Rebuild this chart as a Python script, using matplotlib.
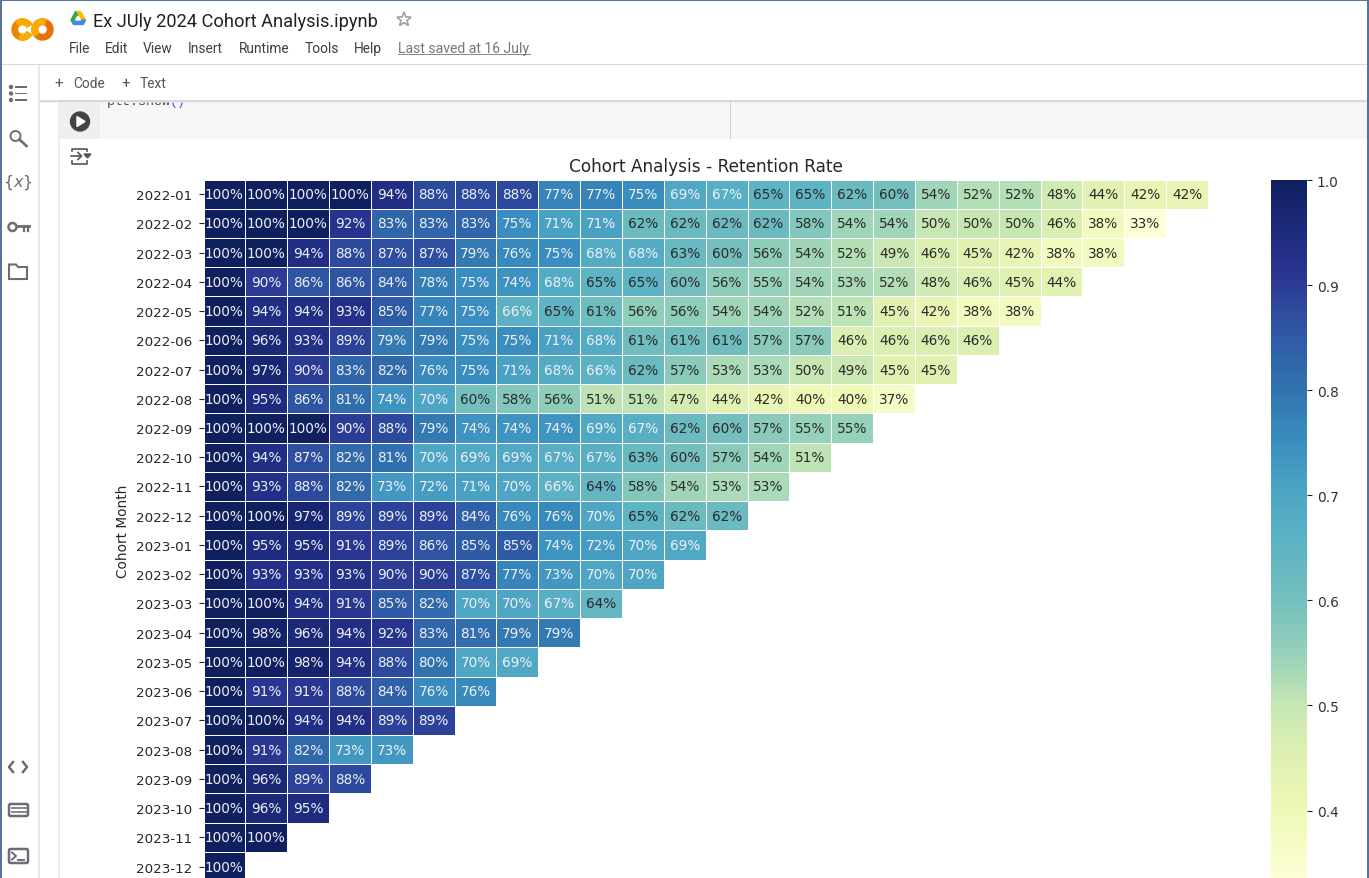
import numpy as np
import matplotlib
matplotlib.use('Agg')
import matplotlib.pyplot as plt
from matplotlib.patches import Rectangle, Circle, Wedge, Polygon, FancyBboxPatch
from matplotlib.colors import Normalize, LinearSegmentedColormap

# cohort labels
months = ['2022-01', '2022-02', '2022-03', '2022-04', '2022-05', '2022-06',
          '2022-07', '2022-08', '2022-09', '2022-10', '2022-11', '2022-12',
          '2023-01', '2023-02', '2023-03', '2023-04', '2023-05', '2023-06',
          '2023-07', '2023-08', '2023-09', '2023-10', '2023-11', '2023-12']

# retention per cohort, percent
r01 = [100, 100, 100, 100, 94, 88, 88, 88, 77, 77, 75, 69, 67, 65, 65, 62, 60, 54, 52, 52, 48, 44, 42, 42]
r02 = [100, 100, 100, 92, 83, 83, 83, 75, 71, 71, 62, 62, 62, 62, 58, 54, 54, 50, 50, 50, 46, 38, 33]
r03 = [100, 100, 94, 88, 87, 87, 79, 76, 75, 68, 68, 63, 60, 56, 54, 52, 49, 46, 45, 42, 38, 38]
r04 = [100, 90, 86, 86, 84, 78, 75, 74, 68, 65, 65, 60, 56, 55, 54, 53, 52, 48, 46, 45, 44]
r05 = [100, 94, 94, 93, 85, 77, 75, 66, 65, 61, 56, 56, 54, 54, 52, 51, 45, 42, 38, 38]
r06 = [100, 96, 93, 89, 79, 79, 75, 75, 71, 68, 61, 61, 61, 57, 57, 46, 46, 46, 46]
r07 = [100, 97, 90, 83, 82, 76, 75, 71, 68, 66, 62, 57, 53, 53, 50, 49, 45, 45]
r08 = [100, 95, 86, 81, 74, 70, 60, 58, 56, 51, 51, 47, 44, 42, 40, 40, 37]
r09 = [100, 100, 100, 90, 88, 79, 74, 74, 74, 69, 67, 62, 60, 57, 55, 55]
r10 = [100, 94, 87, 82, 81, 70, 69, 69, 67, 67, 63, 60, 57, 54, 51]
r11 = [100, 93, 88, 82, 73, 72, 71, 70, 66, 64, 58, 54, 53, 53]
r12 = [100, 100, 97, 89, 89, 89, 84, 76, 76, 70, 65, 62, 62]
r13 = [100, 95, 95, 91, 89, 86, 85, 85, 74, 72, 70, 69]
r14 = [100, 93, 93, 93, 90, 90, 87, 77, 73, 70, 70]
r15 = [100, 100, 94, 91, 85, 82, 70, 70, 67, 64]
r16 = [100, 98, 96, 94, 92, 83, 81, 79, 79]
r17 = [100, 100, 98, 94, 88, 80, 70, 69]
r18 = [100, 91, 91, 88, 84, 76, 76]
r19 = [100, 100, 94, 94, 89, 89]
r20 = [100, 91, 82, 73, 73]
r21 = [100, 96, 89, 88]
r22 = [100, 96, 95]
r23 = [100, 100]
r24 = [100]
rows = [r01, r02, r03, r04, r05, r06, r07, r08, r09, r10, r11, r12,
        r13, r14, r15, r16, r17, r18, r19, r20, r21, r22, r23, r24]
cbar_ticks = [0.4, 0.5, 0.6, 0.7, 0.8, 0.9, 1.0]

# colours as they look on the colour bar of the screenshot
stop_values = [0.333, 0.40, 0.45, 0.50, 0.55, 0.60, 0.65, 0.70, 0.75, 0.80, 0.85, 0.91, 0.95, 1.0]
stop_colors = ['#fdfed6', '#eff8b5', '#dff1b2', '#c6e6b4', '#96d1ba', '#74bfbe', '#5fb4c4',
               '#4ea6c4', '#3a8fbf', '#3174af', '#2f5ba6', '#2b3692', '#1e2b7e', '#10205f']

W, H = 1369, 879
fig = plt.figure(figsize=(W / 100, H / 100), dpi=100, facecolor='white')

def px_axes(x0, y0, x1, y1):
    return fig.add_axes([x0 / W, 1 - y1 / H, (x1 - x0) / W, (y1 - y0) / H])

# ---------------------------------
# heatmap
# ---------------------------------
table = np.full((len(rows), len(rows[0])), np.nan)
for i, row in enumerate(rows):
    table[i, :len(row)] = np.array(row) / 100
table = np.ma.masked_invalid(table)

norm = Normalize(vmin=0.333, vmax=1.0)
cmap = LinearSegmentedColormap.from_list(
    'shot_ylgnbu', [(float(norm(v)), c) for v, c in zip(stop_values, stop_colors)])

ax = px_axes(203.5, 180.5, 1208, 882.2)
mesh = ax.pcolormesh(table, cmap=cmap, norm=norm, edgecolors='white', linewidth=0.6)
ax.set_xlim(0, table.shape[1])
ax.set_ylim(table.shape[0], 0)
for s in ax.spines.values():
    s.set_visible(False)
ax.set_xticks([])
ax.set_yticks(np.arange(len(months)) + 0.5)
ax.set_yticklabels(months, fontsize=9.7, color='#262626')
ax.tick_params(axis='y', length=3.5, width=0.8, pad=4.5, color='#262626')
ax.set_ylabel('Cohort Month', fontsize=9.8, color='#262626', labelpad=4.5)
ax.set_title('Cohort Analysis - Retention Rate', fontsize=12.2, color='#262626', pad=6)

# the screenshot flips to dark labels at 65%
for i, row in enumerate(rows):
    for j, val in enumerate(row):
        ax.text(j + 0.5, i + 0.5, f'{val}%', ha='center', va='center', fontsize=9.8,
                color='#2b2b2b' if val <= 65 else '#eef0f6')

cax = px_axes(1271, 181, 1307, 882)
cb = fig.colorbar(mesh, cax=cax)
cb.set_ticks(cbar_ticks)
cb.ax.tick_params(labelsize=9.9, length=3.5, width=0.8, pad=3.5, color='#262626', labelcolor='#333333')
cb.outline.set_visible(False)

# ---------------------------------
# Colab window around the chart
# ---------------------------------
ui = fig.add_axes([0, 0, 1, 1], zorder=-1)
ui.set_xlim(0, W)
ui.set_ylim(H, 0)
ui.axis('off')
top = fig.add_axes([0, 0, 1, 1], zorder=5)
top.set_xlim(0, W)
top.set_ylim(H, 0)
top.axis('off')
top.patch.set_alpha(0)

def rect(a, x0, y0, x1, y1, color, **kw):
    a.add_patch(Rectangle((x0, y0), x1 - x0, y1 - y0, facecolor=color, edgecolor='none', **kw))

# cell header
rect(ui, 100, 101, W, 140, '#f7f7f7')
rect(ui, 60, 101, 100, 140, '#efefef')
rect(ui, 730, 101, 731, 140, '#d0d0d0')
rect(ui, 58, 101, 60, H, '#ececec')
rect(ui, 38, 66, 39.5, H, '#e8e8e8')
ui.text(107, 102, 'plt.show', fontsize=9.5, family='Liberation Mono', color='#444444', va='center')
ui.text(170, 102, '()', fontsize=9.5, family='Liberation Mono', color='#3b5bdb', va='center')

# header and toolbar cover what sticks out of the cell
rect(top, 0, 0, W, 65, 'white')
rect(top, 0, 65, W, 66, '#dadada')
rect(top, 39.5, 66, W, 101, 'white')
rect(top, 39.5, 101, W, 102.5, '#d8d8d8')
rect(top, 39.5, 102.5, W, 104, '#ececec', alpha=0.6)
rect(top, 0, 0, W, 1.5, '#54749a')
rect(top, 0, 0, 2, H, '#54749a')
rect(top, W - 2, 0, W, H, '#54749a')

# Colab logo
top.add_patch(Wedge((42.5, 30.5), 10.5, 0, 360, width=5.5, color='#e8710a'))
top.add_patch(Wedge((42.5, 30.5), 10.5, 140, 290, width=5.5, color='#f9ab00'))
top.add_patch(Wedge((22.5, 30.5), 10.5, 30, 330, width=5.5, color='#e8850a'))
top.add_patch(Wedge((22.5, 30.5), 10.5, 30, 110, width=5.5, color='#f9ab00'))
top.add_patch(Wedge((22.5, 30.5), 10.5, 230, 330, width=5.5, color='#f9ab00'))

# Drive logo
top.add_patch(Polygon([(75.5, 12.5), (80.5, 12.5), (85.5, 21), (83, 25.5)], color='#fbbc04'))
top.add_patch(Polygon([(75.5, 12.5), (78, 17), (73.5, 25.5), (71, 21)], color='#34a853'))
top.add_patch(Polygon([(73.5, 25.5), (76, 21), (85.5, 21), (83, 25.5)], color='#4285f4'))
top.add_patch(Polygon([(78, 17), (80.5, 21), (75.5, 21)], color='white'))

ui_font = 'Roboto'
top.text(93, 22, 'Ex JUly 2024 Cohort Analysis.ipynb', fontsize=13.15, family=ui_font, color='#222222', va='center')
star = [(404 + (7.5 if k % 2 == 0 else 3.2) * np.sin(k * np.pi / 5),
         20.5 - (7.5 if k % 2 == 0 else 3.2) * np.cos(k * np.pi / 5)) for k in range(10)]
top.add_patch(Polygon(star, facecolor='none', edgecolor='#a0a0a0', linewidth=1.2))

menu = ['File', 'Edit', 'View', 'Insert', 'Runtime', 'Tools', 'Help']
menu_x = [69, 105, 143, 188, 239, 305, 354]
for name, x in zip(menu, menu_x):
    top.text(x, 53, name, fontsize=9.9, family=ui_font, color='#3c4043', va='baseline')
top.text(398, 53, 'Last saved at 16 July', fontsize=10.1, family=ui_font, color='#777777', va='baseline')
rect(top, 398, 54.8, 531, 56, '#8a8a8a')

top.text(54, 88, '+', fontsize=11, family=ui_font, color='#555555', va='baseline')
top.text(73, 88, 'Code', fontsize=9.9, family=ui_font, color='#555555', va='baseline')
top.text(121, 88, '+', fontsize=11, family=ui_font, color='#555555', va='baseline')
top.text(140, 88, 'Text', fontsize=9.9, family=ui_font, color='#555555', va='baseline')

# side bar icons
gray = '#6a6e72'
for y in (88, 94.5, 101):
    top.add_patch(Circle((11, y), 1.5, color=gray))
    rect(top, 15, y - 0.8, 27, y + 0.8, gray)
top.add_patch(Circle((15.5, 137), 5, facecolor='none', edgecolor=gray, linewidth=1.4))
top.plot([19.5, 26.5], [140.5, 147], color=gray, linewidth=1.9)
top.text(18, 183, r'$\{x\}$', fontsize=11.5, color=gray, ha='center', va='center')
top.add_patch(Circle((12.5, 228), 4, facecolor='none', edgecolor=gray, linewidth=1.8))
top.plot([16.5, 29], [227, 227], color=gray, linewidth=2)
top.plot([24, 24], [227, 231.5], color=gray, linewidth=1.6)
top.plot([28, 28], [227, 231.5], color=gray, linewidth=1.6)
top.add_patch(Polygon([(9, 265.5), (16, 265.5), (18, 268), (27, 268), (27, 280), (9, 280)],
                      facecolor='none', edgecolor=gray, linewidth=1.5))
top.plot([13, 9, 13], [763, 768, 773], color=gray, linewidth=1.8)
top.plot([23, 27, 23], [763, 768, 773], color=gray, linewidth=1.8)
top.add_patch(FancyBboxPatch((9, 805), 19, 12, boxstyle='round,pad=0,rounding_size=1.5',
                             facecolor='none', edgecolor=gray, linewidth=1.8))
for x0, x1, y in ((12, 21, 809), (23, 25.5, 809), (12, 15, 813), (17, 25.5, 813)):
    top.plot([x0, x1], [y, y], color=gray, linewidth=1.2)
top.add_patch(FancyBboxPatch((9, 850), 19, 14, boxstyle='round,pad=0,rounding_size=1.5',
                             facecolor='none', edgecolor=gray, linewidth=1.8))
top.plot([12, 16, 12], [853.5, 857, 860.5], color=gray, linewidth=1.4)
top.plot([18, 24], [861, 861], color=gray, linewidth=1.4)

# run button and output icon
top.add_patch(Circle((80, 122.5), 9.5, color='#444444'))
top.add_patch(Polygon([(77, 117.5), (77, 127.5), (85, 122.5)], color='white'))
top.plot([72, 72, 87, 87], [152, 149.5, 149.5, 152], color='#555555', linewidth=1.2)
top.plot([72, 72, 87, 87], [162, 164.5, 164.5, 162], color='#555555', linewidth=1.2)
top.plot([71, 81], [157, 157], color='#555555', linewidth=1.2)
top.plot([78, 81.5, 78], [153.5, 157, 160.5], color='#555555', linewidth=1.2)
top.add_patch(Polygon([(84, 155), (91, 155), (87.5, 159)], color='#555555'))

fig.savefig('out.png', dpi=100)
